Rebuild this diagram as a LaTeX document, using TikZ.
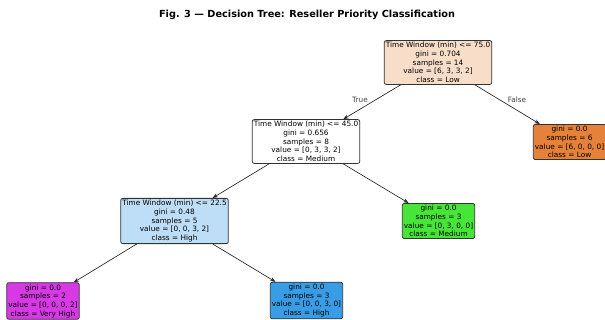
\documentclass[tikz,border=0pt]{standalone}
\usepackage{fontspec}
\setmainfont{DejaVu Sans}
\usetikzlibrary{arrows.meta, positioning, calc}

\begin{document}
\begin{tikzpicture}[x=0.75pt, y=-0.75pt, >={Stealth[length=4pt, width=3pt]},
    treenode/.style={rectangle, rounded corners=1.5pt, draw=black!80, line width=0.6pt,
        align=center, inner xsep=1.2pt, inner ysep=1.3pt,
        font=\fontsize{5.5}{6.5}\selectfont},
    edgelabel/.style={font=\fontsize{5.5}{6.5}\selectfont, text=black!75},
    title/.style={font=\bfseries\fontsize{7.3}{8.5}\selectfont}
]

% Colores de clase
\definecolor{clslow}{HTML}{E58139}
\definecolor{clslowlight}{HTML}{F8DDC9}
\definecolor{clsmedium}{HTML}{48E539}
\definecolor{clshigh}{HTML}{399DE5}
\definecolor{clshighlight}{HTML}{BDDEF6}
\definecolor{clsveryhigh}{HTML}{D739E5}

\useasboundingbox (0,0) rectangle (605,320);

% Título
\node[title] (title) at (307,15) {Fig. 3 — Decision Tree: Reseller Priority Classification};

% ============ Nivel 0 ============
\node[treenode, fill=clslowlight] (root) at (438,62.5) {%
    Time Window (min) <= 75.0\\ gini = 0.704\\ samples = 14\\ value = [6, 3, 3, 2]\\ class = Low};

% ============ Nivel 1 ============
\node[treenode, fill=white] (nmed) at (306,141.5) {%
    Time Window (min) <= 45.0\\ gini = 0.656\\ samples = 8\\ value = [0, 3, 3, 2]\\ class = Medium};
\node[treenode, fill=clslow] (leaflow) at (569.5,142) {%
    gini = 0.0\\ samples = 6\\ value = [6, 0, 0, 0]\\ class = Low};

% ============ Nivel 2 ============
\node[treenode, fill=clshighlight] (nhigh) at (174.5,221) {%
    Time Window (min) <= 22.5\\ gini = 0.48\\ samples = 5\\ value = [0, 0, 3, 2]\\ class = High};
\node[treenode, fill=clsmedium] (leafmed) at (438.5,221) {%
    gini = 0.0\\ samples = 3\\ value = [0, 3, 0, 0]\\ class = Medium};

% ============ Nivel 3 ============
\node[treenode, fill=clsveryhigh] (leafvhigh) at (43,301) {%
    gini = 0.0\\ samples = 2\\ value = [0, 0, 0, 2]\\ class = Very High};
\node[treenode, fill=clshigh] (leafhigh) at (306.5,300.5) {%
    gini = 0.0\\ samples = 3\\ value = [0, 0, 3, 0]\\ class = High};

% Aristas
\draw[->, black!85, line width=0.5pt] (root) -- (nmed);
\draw[->, black!85, line width=0.5pt] (root) -- (leaflow);
\draw[->, black!85, line width=0.5pt] (nmed) -- (nhigh);
\draw[->, black!85, line width=0.5pt] (nmed) -- (leafmed);
\draw[->, black!85, line width=0.5pt] (nhigh) -- (leafvhigh);
\draw[->, black!85, line width=0.5pt] (nhigh) -- (leafhigh);

% Etiquetas de la primera división
\node[edgelabel] (lbltrue) at (360,100) {True};
\node[edgelabel] (lblfalse) at (517,100) {False};

\end{tikzpicture}
\end{document}
